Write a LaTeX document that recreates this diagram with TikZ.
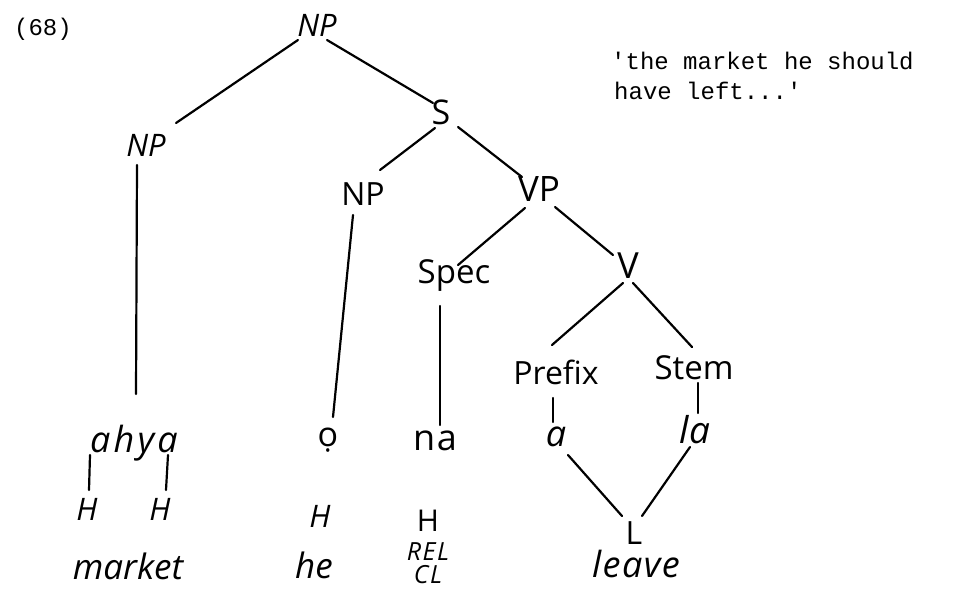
\documentclass[tikz,border=0pt]{standalone}
\usepackage{fontspec}
\setmainfont{Open Sans}
\newfontfamily\twfont{Liberation Mono}
\begin{document}
\begin{tikzpicture}[x=1pt,y=-1pt,
  lab/.style={inner sep=0pt, font=\fontsize{32}{34}\selectfont},
  labi/.style={inner sep=0pt, font=\fontsize{31}{33}\selectfont\itshape},
  seg/.style={inner sep=0pt, font=\fontsize{36}{38}\selectfont\itshape},
  tone/.style={inner sep=0pt, font=\fontsize{31}{33}\selectfont\itshape},
  gloss/.style={inner sep=0pt, font=\fontsize{35}{37}\selectfont\itshape},
  small/.style={inner sep=0pt, align=center, font=\fontsize{25}{23}\selectfont\itshape\addfontfeature{LetterSpace=6}},
  tw/.style={inner sep=0pt, font=\fontsize{24}{30}\selectfont\twfont},
  edge/.style={line width=2.2pt, line cap=round}]
\useasboundingbox (0,0) rectangle (971,590);
% labels
\node[tw] (ex) at (43,29) {(68)};
\node[tw, anchor=north west, align=left] (quote) at (611,52) {'the market he should\\\hspace{3pt}have left...'};
\node[labi] (npt) at (317,25) {NP};
\node[labi] (npl) at (146,145) {NP};
\node[lab, font=\fontsize{34}{36}\selectfont] (s) at (441,112) {S};
\node[lab] (npm) at (363,194) {NP};
\node[lab, font=\fontsize{35}{37}\selectfont] (vp) at (539,189) {VP};
\node[lab, font=\fontsize{33}{35}\selectfont] (spec) at (454,276) {Spec};
\node[lab, font=\fontsize{36}{38}\selectfont] (v) at (628,266) {V};
\node[lab] (prefix) at (556,372) {Prefix};
\node[lab, font=\fontsize{33}{35}\selectfont] (stem) at (694,368) {Stem};
\node[seg, font=\fontsize{36}{38}\selectfont\itshape\addfontfeature{LetterSpace=9}] (ahya) at (134,443) {ahya};
\node[lab, font=\fontsize{34}{36}\selectfont] (o) at (328,440) {ọ};
\node[lab, font=\fontsize{36}{38}\selectfont\addfontfeature{LetterSpace=5}] (na) at (435,441) {na};
\node[seg] (a) at (556,437) {a};
\node[seg, font=\fontsize{37}{39}\selectfont\itshape\addfontfeature{LetterSpace=3}] (la) at (695,430) {la};
\node[tone] (h1) at (87,509) {H};
\node[tone] (h2) at (160,509) {H};
\node[tone] (h3) at (320,516) {H};
\node[lab, font=\fontsize{30}{32}\selectfont] (h4) at (428,521) {H};
\node[small] (relcl) at (428,563) {REL\\CL};
\node[lab, font=\fontsize{32}{34}\selectfont] (l) at (634,533) {L};
\node[gloss] (market) at (128,566) {market};
\node[gloss] (he) at (314,565) {he};
\node[gloss, font=\fontsize{36}{38}\selectfont\itshape\addfontfeature{LetterSpace=4}] (leave) at (636,564) {leave};
% edges
\draw[edge] ([shift={(-19,15)}]npt.center) -- ([shift={(30,-22)}]npl.center);
\draw[edge] ([shift={(10,15)}]npt.center) -- ([shift={(-8,-9)}]s.center);
\draw[edge] ([shift={(-6,16)}]s.center) -- ([shift={(17,-24)}]npm.center);
\draw[edge] ([shift={(17,15)}]s.center) -- ([shift={(-17,-12)}]vp.center);
\draw[edge] ([shift={(-14,19)}]vp.center) -- ([shift={(4,-11)}]spec.center);
\draw[edge] ([shift={(16,18)}]vp.center) -- ([shift={(-15,-11)}]v.center);
\draw[edge] ([shift={(-5,17)}]v.center) -- ([shift={(-4,-27)}]prefix.center);
\draw[edge] ([shift={(5,17)}]v.center) -- ([shift={(-2,-21)}]stem.center);
\draw[edge] ([shift={(-9,20)}]npl.center) -- ([shift={(2,-49)}]ahya.center);
\draw[edge] ([shift={(-10,21)}]npm.center) -- ([shift={(5,-23)}]o.center);
\draw[edge] ([shift={(-14,30)}]spec.center) -- ([shift={(5,-16)}]na.center);
\draw[edge] ([shift={(-3,26)}]prefix.center) -- ([shift={(-3,-15)}]a.center);
\draw[edge] ([shift={(4,15)}]stem.center) -- ([shift={(3,-17)}]la.center);
\draw[edge] ([shift={(12,18)}]a.center) -- ([shift={(-12,-17)}]l.center);
\draw[edge] ([shift={(-5,17)}]la.center) -- ([shift={(8,-17)}]l.center);
\draw[edge] ([shift={(-44,12)}]ahya.center) -- ([shift={(2,-19)}]h1.center);
\draw[edge] ([shift={(34,12)}]ahya.center) -- ([shift={(6,-19)}]h2.center);
\end{tikzpicture}
\end{document}
